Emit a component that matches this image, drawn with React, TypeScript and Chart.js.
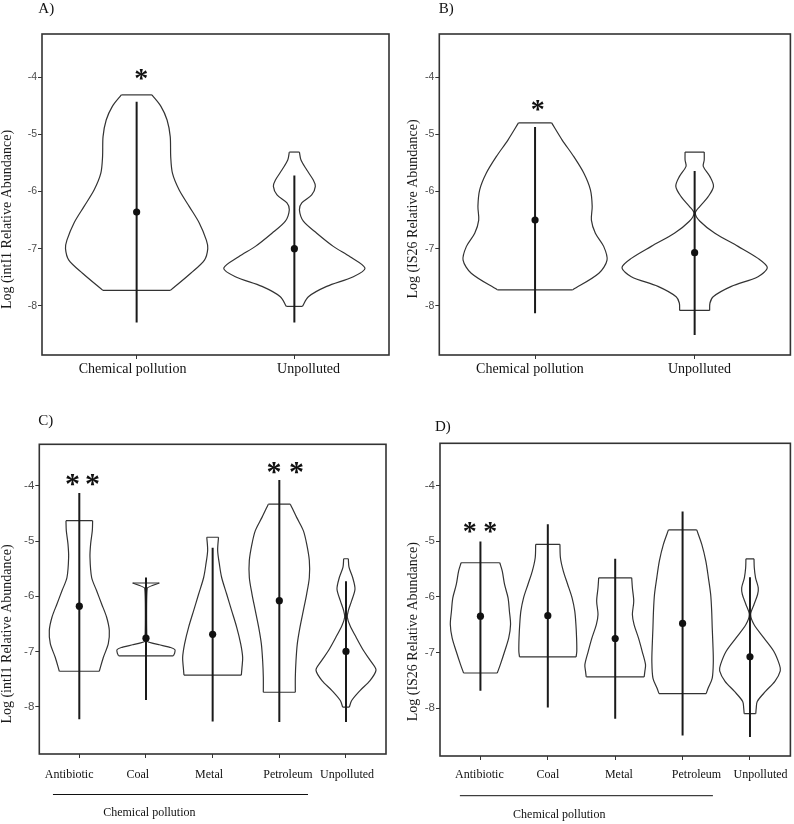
import React, { useEffect, useRef } from "react";
import { Chart, registerables } from "chart.js";

Chart.register(...registerables);

type Prof = [number, number][]; // [log value, half-width in category units]

// ---------- shared axis data ----------
const Y_TICKS = [-8, -7, -6, -5, -4];
const Y_MIN = -8.86;
const Y_MAX = -3.245;
const GROUPS_AB = ["Chemical pollution", "Unpolluted"];
const GROUPS_CD = ["Antibiotic", "Coal", "Metal", "Petroleum", "Unpolluted"];

// ---------- Panel A : intI1, chemical vs unpolluted ----------
const A_CHEM: Prof = [[-4.31, 0.097], [-4.51, 0.154], [-4.75, 0.193], [-5.04, 0.213], [-5.39, 0.216], [-5.68, 0.227], [-5.97, 0.269], [-6.26, 0.333], [-6.55, 0.397], [-6.85, 0.442], [-7.0, 0.451], [-7.2, 0.43], [-7.43, 0.343], [-7.73, 0.214]];
const A_UNP: Prof = [[-5.31, 0.032], [-5.45, 0.042], [-5.62, 0.078], [-5.8, 0.12], [-5.91, 0.133], [-6.06, 0.11], [-6.2, 0.047], [-6.32, 0.032], [-6.52, 0.057], [-6.73, 0.142], [-6.96, 0.247], [-7.14, 0.353], [-7.34, 0.448], [-7.49, 0.374], [-7.66, 0.205], [-7.84, 0.089], [-8.01, 0.051]];
const A_RANGES: [number, number][] = [[-4.43, -8.29], [-5.72, -8.29]];
const A_MEANS = [-6.36, -7.0];
const A_STARS: [number, number][] = [[1.03, -3.96]];
const A_LABEL_POS = [0.974, 2.09];

// ---------- Panel B : IS26, chemical vs unpolluted ----------
const B_CHEM: Prof = [[-4.8, 0.104], [-5.1, 0.17], [-5.39, 0.243], [-5.68, 0.306], [-5.97, 0.347], [-6.26, 0.358], [-6.5, 0.353], [-6.73, 0.378], [-6.96, 0.43], [-7.2, 0.451], [-7.43, 0.4], [-7.72, 0.236]];
const B_UNP: Prof = [[-5.31, 0.06], [-5.45, 0.06], [-5.56, 0.054], [-5.74, 0.096], [-5.91, 0.118], [-6.09, 0.085], [-6.26, 0.033], [-6.38, 0.004], [-6.52, 0.033], [-6.73, 0.127], [-6.96, 0.272], [-7.17, 0.397], [-7.33, 0.455], [-7.49, 0.397], [-7.66, 0.23], [-7.84, 0.116], [-7.95, 0.096], [-8.08, 0.094]];
const B_RANGES: [number, number][] = [[-4.87, -8.13], [-5.64, -8.51]];
const B_MEANS = [-6.5, -7.07];
const B_STARS: [number, number][] = [[1.017, -4.49]];
const B_LABEL_POS = [0.968, 2.03];

// ---------- Panel C : intI1 by pollution type ----------
const C_ANTI: Prof = [[-4.63, 0.2], [-4.81, 0.195], [-5.05, 0.17], [-5.29, 0.16], [-5.66, 0.185], [-5.9, 0.26], [-6.14, 0.335], [-6.38, 0.41], [-6.62, 0.45], [-6.86, 0.435], [-7.11, 0.36], [-7.36, 0.3]];
const C_COAL: Prof = [[-5.76, 0.2], [-5.85, 0.02], [-6.82, 0.02], [-6.88, 0.2], [-6.93, 0.37], [-6.97, 0.435], [-7.03, 0.43], [-7.08, 0.41]];
const C_METAL: Prof = [[-4.93, 0.088], [-5.17, 0.075], [-5.41, 0.1], [-5.66, 0.135], [-5.96, 0.21], [-6.26, 0.285], [-6.56, 0.36], [-6.86, 0.42], [-7.11, 0.45], [-7.29, 0.44], [-7.43, 0.43]];
const C_PETRO: Prof = [[-4.33, 0.165], [-4.57, 0.26], [-4.81, 0.36], [-5.05, 0.41], [-5.35, 0.45], [-5.66, 0.45], [-5.96, 0.41], [-6.26, 0.36], [-6.56, 0.31], [-6.86, 0.27], [-7.17, 0.25], [-7.47, 0.24], [-7.74, 0.24]];
const C_UNP: Prof = [[-5.32, 0.035], [-5.47, 0.045], [-5.66, 0.1], [-5.87, 0.135], [-6.08, 0.085], [-6.26, 0.035], [-6.38, 0.02], [-6.53, 0.06], [-6.74, 0.15], [-6.98, 0.26], [-7.2, 0.385], [-7.34, 0.45], [-7.53, 0.36], [-7.71, 0.21], [-7.89, 0.085], [-8.01, 0.05]];
const C_RANGES: [number, number][] = [[-4.13, -8.23], [-5.66, -7.88], [-5.12, -8.27], [-3.89, -8.28], [-5.73, -8.28]];
const C_MEANS = [-6.18, -6.76, -6.69, -6.08, -7.0];
const C_STARS: [number, number][] = [[0.898, -3.879], [1.198, -3.879], [3.919, -3.668], [4.256, -3.668]];
const C_LABEL_POS = [0.848, 1.877, 2.947, 4.129, 5.016];

// ---------- Panel D : IS26 by pollution type ----------
const D_ANTI: Prof = [[-5.39, 0.287], [-5.54, 0.324], [-5.78, 0.358], [-6.02, 0.41], [-6.26, 0.43], [-6.5, 0.447], [-6.74, 0.42], [-6.98, 0.36], [-7.22, 0.295], [-7.37, 0.25]];
const D_COAL: Prof = [[-5.06, 0.18], [-5.3, 0.187], [-5.54, 0.23], [-5.78, 0.295], [-6.02, 0.36], [-6.26, 0.4], [-6.5, 0.417], [-6.74, 0.427], [-6.98, 0.43], [-7.08, 0.42]];
const D_METAL: Prof = [[-5.66, 0.245], [-5.84, 0.255], [-6.08, 0.275], [-6.32, 0.255], [-6.5, 0.28], [-6.74, 0.345], [-6.98, 0.4], [-7.22, 0.45], [-7.34, 0.44], [-7.44, 0.43]];
const D_PETRO: Prof = [[-4.8, 0.21], [-5.06, 0.285], [-5.36, 0.345], [-5.66, 0.383], [-5.96, 0.417], [-6.26, 0.432], [-6.56, 0.44], [-6.86, 0.45], [-7.16, 0.456], [-7.46, 0.44], [-7.64, 0.38], [-7.74, 0.35]];
const D_UNP: Prof = [[-5.32, 0.06], [-5.48, 0.064], [-5.66, 0.083], [-5.84, 0.123], [-5.96, 0.113], [-6.14, 0.06], [-6.32, 0.01], [-6.5, 0.06], [-6.74, 0.206], [-6.98, 0.353], [-7.22, 0.437], [-7.33, 0.45], [-7.52, 0.37], [-7.7, 0.23], [-7.88, 0.108], [-8.0, 0.093], [-8.1, 0.086]];
const D_RANGES: [number, number][] = [[-5.01, -7.69], [-4.7, -7.99], [-5.32, -8.19], [-4.47, -8.49], [-5.65, -8.52]];
const D_MEANS = [-6.35, -6.34, -6.75, -6.48, -7.08];
const D_STARS: [number, number][] = [[0.842, -4.757], [1.146, -4.757]];
const D_LABEL_POS = [0.985, 2.002, 3.055, 4.207, 5.157];

// group bracket (x in category units)
const C_BRACKET = { from: 0.605, to: 4.43, textAt: 2.05 };
const D_BRACKET = { from: 0.695, to: 4.45, textAt: 2.17 };

const SERIF = '"Liberation Serif", "Times New Roman", serif';
const SANS = '"Liberation Sans", Arial, sans-serif';

type PanelCfg = {
  letter: string;
  letterAt: [number, number];
  canvas: { left: number; top: number; w: number; h: number };
  area: { l: number; r: number; t: number; b: number };
  xMax: number;
  cats: string[];
  labelPos: number[];
  violins: Prof[];
  tension: number[];
  ranges: [number, number][];
  means: number[];
  stars: [number, number][];
  starSize: number;
  yTitle: string;
  titleAt: [number, number];
  tickFont: number;
  catFont: number;
  catPad: number;
  bracket: null | { from: number; to: number; textAt: number; lineY: number; textY: number };
};

const PANELS: PanelCfg[] = [
  {
    letter: "A)", letterAt: [38.3, 0.7],
    canvas: { left: 0, top: 0, w: 397, h: 400 },
    area: { l: 42, r: 389, t: 34, b: 355 },
    xMax: 2.6, cats: GROUPS_AB, labelPos: A_LABEL_POS,
    violins: [A_CHEM, A_UNP], tension: [0.3, 0.3],
    ranges: A_RANGES, means: A_MEANS, stars: A_STARS, starSize: 28,
    yTitle: "Log (intI1 Relative Abundance)", titleAt: [7, 219.5],
    tickFont: 10.5, catFont: 14, catPad: 2.2, bracket: null,
  },
  {
    letter: "B)", letterAt: [438.7, 0.7],
    canvas: { left: 400, top: 0, w: 394, h: 400 },
    area: { l: 439.3, r: 792.3, t: 34, b: 355 },
    xMax: 2.6, cats: GROUPS_AB, labelPos: B_LABEL_POS,
    violins: [B_CHEM, B_UNP], tension: [0.3, 0.3],
    ranges: B_RANGES, means: B_MEANS, stars: B_STARS, starSize: 28,
    yTitle: "Log (IS26 Relative Abundance)", titleAt: [413, 209],
    tickFont: 10.5, catFont: 14, catPad: 2.2, bracket: null,
  },
  {
    letter: "C)", letterAt: [38.3, 413.4],
    canvas: { left: 0, top: 420, w: 397, h: 404 },
    area: { l: 39.3, r: 386, t: 444.3, b: 754 },
    xMax: 5.6, cats: GROUPS_CD, labelPos: C_LABEL_POS,
    violins: [C_ANTI, C_COAL, C_METAL, C_PETRO, C_UNP], tension: [0.3, 0.1, 0.3, 0.3, 0.3],
    ranges: C_RANGES, means: C_MEANS, stars: C_STARS, starSize: 30,
    yTitle: "Log (intI1 Relative Abundance)", titleAt: [7, 634],
    tickFont: 11.5, catFont: 12, catPad: 10,
    bracket: { ...C_BRACKET, lineY: 794.5, textY: 813 },
  },
  {
    letter: "D)", letterAt: [435, 419],
    canvas: { left: 400, top: 420, w: 394, h: 404 },
    area: { l: 440, r: 793, t: 443.3, b: 756 },
    xMax: 5.6, cats: GROUPS_CD, labelPos: D_LABEL_POS,
    violins: [D_ANTI, D_COAL, D_METAL, D_PETRO, D_UNP], tension: [0.3, 0.3, 0.3, 0.3, 0.3],
    ranges: D_RANGES, means: D_MEANS, stars: D_STARS, starSize: 28,
    yTitle: "Log (IS26 Relative Abundance)", titleAt: [413.3, 631.7],
    tickFont: 11.5, catFont: 12, catPad: 8,
    bracket: { ...D_BRACKET, lineY: 795.7, textY: 814.5 },
  },
];

const OUTLINE = { borderColor: "#333333", borderWidth: 1.2, pointRadius: 0, pointHoverRadius: 0, showLine: true, xAxisID: "x", yAxisID: "y" };

function buildDatasets(p: PanelCfg) {
  const ds: any[] = [];
  ds.push({
    label: "mean", xAxisID: "x", yAxisID: "y",
    data: p.means.map((y, i) => ({ x: i + 1, y })),
    showLine: false, pointRadius: 3.6, pointHoverRadius: 3.6,
    pointBackgroundColor: "#111111", pointBorderColor: "#111111", pointBorderWidth: 0,
  });
  p.ranges.forEach(([top, bottom], i) => {
    ds.push({
      label: "range", xAxisID: "x", yAxisID: "y",
      data: [{ x: i + 1, y: top }, { x: i + 1, y: bottom }],
      showLine: true, borderColor: "#1a1a1a", borderWidth: 2, pointRadius: 0, pointHoverRadius: 0, tension: 0,
    });
  });
  p.violins.forEach((prof, i) => {
    const c = i + 1;
    const t = p.tension[i];
    const first = prof[0];
    const last = prof[prof.length - 1];
    ds.push({ ...OUTLINE, label: "violin", tension: t, data: prof.map(([y, w]) => ({ x: c + w, y })) });
    ds.push({ ...OUTLINE, label: "violin", tension: t, data: prof.map(([y, w]) => ({ x: c - w, y })) });
    ds.push({ ...OUTLINE, label: "violin", tension: 0, data: [{ x: c - first[1], y: first[0] }, { x: c + first[1], y: first[0] }] });
    ds.push({ ...OUTLINE, label: "violin", tension: 0, data: [{ x: c - last[1], y: last[0] }, { x: c + last[1], y: last[0] }] });
  });
  return ds;
}

function makeOverlay(p: PanelCfg) {
  return {
    id: "overlay" + p.letter,
    afterDraw(chart: any) {
      const { ctx, chartArea: a, scales } = chart;
      const ox = p.canvas.left;
      const oy = p.canvas.top;
      ctx.save();
      // panel frame
      ctx.strokeStyle = "#333333";
      ctx.lineWidth = 1.6;
      ctx.strokeRect(a.left, a.top, a.right - a.left, a.bottom - a.top);
      // y axis title
      ctx.save();
      ctx.translate(p.titleAt[0] - ox, p.titleAt[1] - oy);
      ctx.rotate(-Math.PI / 2);
      ctx.fillStyle = "#1a1a1a";
      ctx.font = `14px ${SERIF}`;
      ctx.textAlign = "center";
      ctx.textBaseline = "middle";
      ctx.fillText(p.yTitle, 0, 0);
      ctx.restore();
      // significance stars
      ctx.fillStyle = "#111111";
      ctx.font = `bold ${p.starSize}px ${SERIF}`;
      ctx.textAlign = "center";
      ctx.textBaseline = "alphabetic";
      p.stars.forEach(([sx, sy]) => {
        const px = scales.x.getPixelForValue(sx);
        const py = scales.y.getPixelForValue(sy);
        ctx.fillText("*", px, py + 0.45 * p.starSize);
      });
      // chemical pollution bracket
      if (p.bracket) {
        const b = p.bracket;
        ctx.strokeStyle = "#111111";
        ctx.lineWidth = 1;
        ctx.beginPath();
        ctx.moveTo(scales.x.getPixelForValue(b.from), b.lineY - oy);
        ctx.lineTo(scales.x.getPixelForValue(b.to), b.lineY - oy);
        ctx.stroke();
        ctx.fillStyle = "#111111";
        ctx.font = `${p.catFont}px ${SERIF}`;
        ctx.textAlign = "center";
        ctx.textBaseline = "middle";
        ctx.fillText("Chemical pollution", scales.x.getPixelForValue(b.textAt), b.textY - oy);
      }
      ctx.restore();
    },
  };
}

function Panel({ p }: { p: PanelCfg }) {
  const ref = useRef<HTMLCanvasElement | null>(null);
  useEffect(() => {
    if (!ref.current) return;
    const X_TICK_H = 4;
    const X_LABEL_H = 30;
    const padTop = p.area.t - p.canvas.top;
    const padRight = p.canvas.w - (p.area.r - p.canvas.left);
    const padBottom = p.canvas.h - (p.area.b - p.canvas.top) - X_TICK_H - X_LABEL_H;
    const yWidth = p.area.l - p.canvas.left;
    const chart = new Chart(ref.current, {
      type: "scatter",
      data: { datasets: buildDatasets(p) },
      options: {
        animation: false,
        responsive: false,
        events: [],
        layout: { padding: { left: 0, right: padRight, top: padTop, bottom: padBottom } },
        plugins: { legend: { display: false }, tooltip: { enabled: false }, title: { display: false } },
        scales: {
          x: {
            type: "linear", position: "bottom", weight: 0,
            min: 0.4, max: p.xMax,
            afterBuildTicks: (s: any) => { s.ticks = p.cats.map((_, i) => ({ value: i + 1 })); },
            afterFit: (s: any) => { s.height = X_TICK_H; s.paddingLeft = 0; s.paddingRight = 0; },
            ticks: { display: false },
            grid: { display: true, drawOnChartArea: false, drawTicks: true, tickLength: 4, color: "#333333", lineWidth: 1 },
            border: { display: false },
          },
          xl: {
            type: "linear", axis: "x", position: "bottom", weight: 1,
            min: 0.4, max: p.xMax,
            afterBuildTicks: (s: any) => { s.ticks = p.labelPos.map((v) => ({ value: v })); },
            afterFit: (s: any) => { s.height = X_LABEL_H; s.paddingLeft = 0; s.paddingRight = 0; },
            ticks: {
              autoSkip: false, maxRotation: 0, minRotation: 0, padding: p.catPad,
              color: "#111111", font: { family: SERIF, size: p.catFont },
              callback: (_v: any, idx: number) => p.cats[idx],
            },
            grid: { display: false, drawTicks: false },
            border: { display: false },
          },
          y: {
            type: "linear", position: "left",
            min: Y_MIN, max: Y_MAX,
            afterBuildTicks: (s: any) => { s.ticks = Y_TICKS.map((v) => ({ value: v })); },
            afterFit: (s: any) => { s.width = yWidth; s.paddingTop = 0; s.paddingBottom = 0; },
            ticks: {
              padding: 1, color: "#4d4d4d", font: { family: SANS, size: p.tickFont },
              callback: (v: any) => String(v),
            },
            grid: { display: true, drawOnChartArea: false, drawTicks: true, tickLength: 4, color: "#333333", lineWidth: 1 },
            border: { display: false },
            title: { display: false },
          },
        },
      } as any,
      plugins: [makeOverlay(p)],
    });
    return () => chart.destroy();
  }, [p]);
  return (
    <canvas
      ref={ref}
      width={p.canvas.w}
      height={p.canvas.h}
      style={{ position: "absolute", left: p.canvas.left, top: p.canvas.top, width: p.canvas.w, height: p.canvas.h }}
    />
  );
}

export default function App() {
  return (
    <div style={{ position: "absolute", left: 0, top: 0, width: 794, height: 824, background: "#ffffff", overflow: "hidden" }}>
      {PANELS.map((p) => (
        <React.Fragment key={p.letter}>
          <Panel p={p} />
          <div
            style={{
              position: "absolute", left: p.letterAt[0], top: p.letterAt[1],
              font: `15px ${SERIF}`, lineHeight: "15px", color: "#111", whiteSpace: "nowrap",
            }}
          >
            {p.letter}
          </div>
        </React.Fragment>
      ))}
    </div>
  );
}
